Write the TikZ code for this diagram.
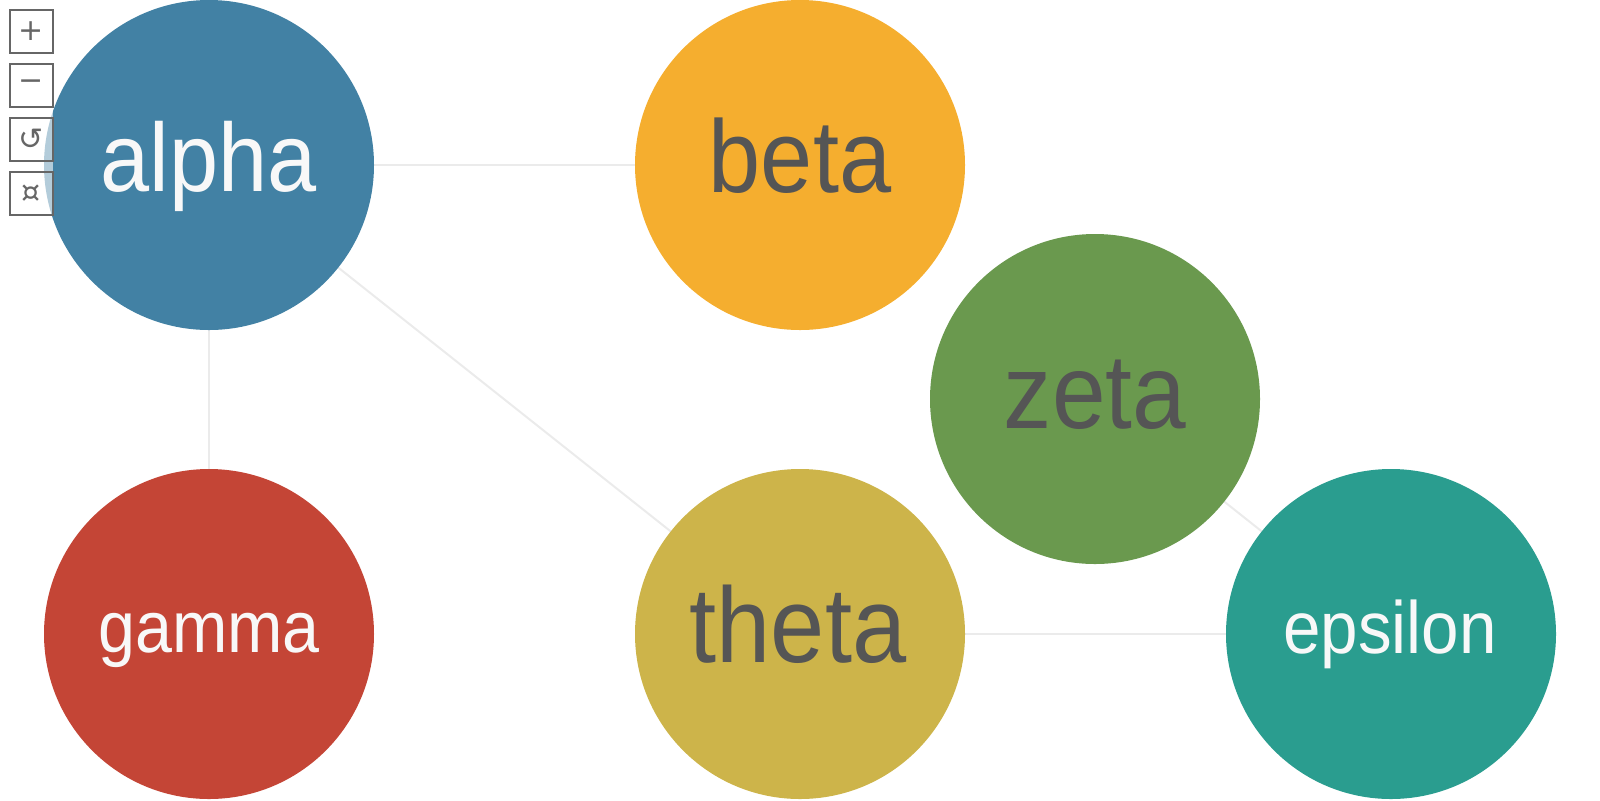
\documentclass[tikz,border=0pt]{standalone}
\usepackage{fontspec}
\setmainfont{Liberation Sans}
\newfontfamily\labfont[FakeStretch=0.91]{Liberation Sans}
\newfontfamily\iconfont{DejaVu Sans}
\usetikzlibrary{backgrounds}
\definecolor{calpha}{HTML}{4281A4}
\definecolor{cbeta}{HTML}{F5AE2F}
\definecolor{czeta}{HTML}{6A994E}
\definecolor{cgamma}{HTML}{C44536}
\definecolor{ctheta}{HTML}{CDB44A}
\definecolor{ceps}{HTML}{2A9D8F}
\definecolor{darktxt}{HTML}{555555}
\definecolor{lighttxt}{HTML}{F8F8F8}
\definecolor{edgec}{HTML}{EBEBEB}
\definecolor{btn}{HTML}{666666}
\tikzset{
  bubble/.style={circle, minimum size=165pt, inner sep=0, draw=none},
  lab/.style={anchor=base, inner sep=0, font=\labfont\fontsize{#1}{#1}\selectfont},
  edge/.style={draw=edgec, line width=1pt},
  ctrl/.style={draw=btn, line width=1pt, minimum size=21.5pt, inner sep=0, text=btn, font=\iconfont\fontsize{15}{15}\selectfont},
}
\begin{document}
\begin{tikzpicture}[x=0.5pt, y=-0.5pt]
\useasboundingbox (0,0) rectangle (1600,800);
% circles
\node[bubble, fill=calpha] (alpha) at (209,165) {};
\node[bubble, fill=cbeta] (beta) at (800,165) {};
\node[bubble, fill=czeta] (zeta) at (1095,399) {};
\node[bubble, fill=cgamma] (gamma) at (209,634) {};
\node[bubble, fill=ctheta] (theta) at (800,634) {};
\node[bubble, fill=ceps] (epsilon) at (1391,634) {};
% edges
\begin{scope}[on background layer]
\draw[edge] (alpha.center) -- (beta.center);
\draw[edge] (alpha.center) -- (gamma.center);
\draw[edge] (alpha.center) -- (theta.center);
\draw[edge] (theta.center) -- (epsilon.center);
\draw[edge] (zeta.center) -- (epsilon.center);
\end{scope}
% labels
\node[lab=48.5, text=lighttxt] (talpha) at (208.5,191) {alpha};
\node[lab=51.5, text=darktxt] (tbeta) at (800,192) {beta};
\node[lab=53, text=darktxt] (tzeta) at (1095,428) {zeta};
\node[lab=36.5, text=lighttxt] (tgamma) at (209,652) {gamma};
\node[lab=53.5, text=darktxt] (ttheta) at (798,662) {theta};
\node[lab=37, text=lighttxt] (teps) at (1390,653) {epsilon};
% controls
\fill[white, opacity=0.6] (10,10) rectangle (53,215);
\node[ctrl] (zin) at (31.5,31.5) {+};
\node[ctrl] (zout) at (31.5,85.5) {−};
\node[ctrl] (reset) at (31.5,139.5) {↺};
\node[ctrl] (fit) at (31.5,193.5) {¤};
\end{tikzpicture}
\end{document}
